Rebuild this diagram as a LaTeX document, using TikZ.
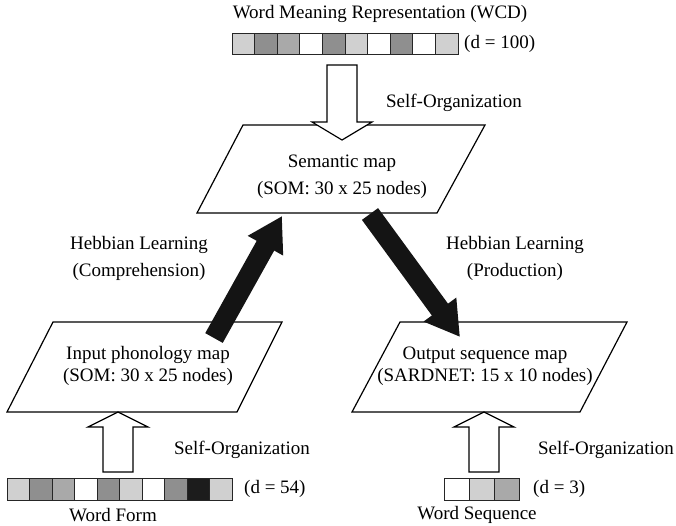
\documentclass[tikz,border=0pt]{standalone}
\usepackage{fontspec}
\setmainfont{Liberation Serif}
\usetikzlibrary{arrows.meta}
\definecolor{cL}{HTML}{D0D0D0}
\definecolor{cM}{HTML}{A9A9A9}
\definecolor{cD}{HTML}{8F8F8F}
\definecolor{cK}{HTML}{1C1C1C}
\begin{document}
\begin{tikzpicture}[x=1pt,y=-1pt,
  lbl/.style={font=\fontsize{19}{22}\selectfont, inner sep=0pt},
  mapbox/.style={draw=black, line width=1.2pt, fill=white, line join=miter},
  cellbox/.style={draw=black!85, line width=1pt},
  hollow/.style={draw=black, line width=1.2pt, fill=white, line join=miter},
  heb/.style={line width=20pt, -{Triangle[width=38pt,length=34pt]}, draw=black!92}
]
\useasboundingbox (0,0) rectangle (676,525);

% maps
\draw[mapbox] (243,125) -- (485,125) -- (437,213) -- (197,213) -- cycle;
\draw[mapbox] (53,322) -- (282,322) -- (237,412) -- (7,412) -- cycle;
\draw[mapbox] (400,322) -- (627,322) -- (580,412) -- (352,412) -- cycle;

% Hebbian arrows
\coordinate (phonOut) at (214,338);
\coordinate (semIn) at (282,216);
\coordinate (semOut) at (370,214);
\coordinate (outIn) at (460,337);
\draw[heb] (phonOut) -- (semIn);
\draw[heb] (semOut) -- (outIn);

% vectors
\foreach \c [count=\i from 0] in {cL,cD,cM,white,cD,cL,white,cD,white,cL}
  \draw[cellbox, fill=\c] ({232+22.6*\i},33) rectangle ++(22.6,21);
\foreach \c [count=\i from 0] in {cL,cD,cM,white,cD,cL,white,cD,cK,cL}
  \draw[cellbox, fill=\c] ({7+22.5*\i},478) rectangle ++(22.5,22);
\foreach \c [count=\i from 0] in {white,cL,cM}
  \draw[cellbox, fill=\c] ({444+25*\i},478) rectangle ++(25,22);

% hollow arrows
\coordinate (wcdTail) at (342,65);
\coordinate (semTip) at (342,140);
\coordinate (formTail) at (118,472);
\coordinate (phonTip) at (118,412);
\coordinate (seqTail) at (484,472);
\coordinate (outTip) at (484,412);
\draw[hollow] (327,65) -- (357,65) -- (357,122) -- (372,122) -- (semTip) -- (312,122) -- (327,122) -- cycle;
\draw[hollow] (103,472) -- (133,472) -- (133,427) -- (148,427) -- (phonTip) -- (88,427) -- (103,427) -- cycle;
\draw[hollow] (469,472) -- (499,472) -- (499,427) -- (514,427) -- (outTip) -- (454,427) -- (469,427) -- cycle;

% texts
\node[lbl] (title) at (380,14) {Word Meaning Representation (WCD)};
\node[lbl, anchor=west] (d100) at (464,44) {(d = 100)};
\node[lbl] (so1) at (454,103) {Self-Organization};
\node[lbl] (sem1) at (342,163) {Semantic map};
\node[lbl] (sem2) at (342,190) {(SOM: 30 x 25 nodes)};
\node[lbl] (hc1) at (139,245) {Hebbian Learning};
\node[lbl] (hc2) at (139,272) {(Comprehension)};
\node[lbl] (hp1) at (515,245) {Hebbian Learning};
\node[lbl] (hp2) at (515,272) {(Production)};
\node[lbl] (ip1) at (148,355) {Input phonology map};
\node[lbl] (ip2) at (148,377) {(SOM: 30 x 25 nodes)};
\node[lbl] (os1) at (485,355) {Output sequence map};
\node[lbl] (os2) at (485,377) {(SARDNET: 15 x 10 nodes)};
\node[lbl] (so2) at (242,450) {Self-Organization};
\node[lbl] (so3) at (606,450) {Self-Organization};
\node[lbl, anchor=west] (d54) at (244,489) {(d = 54)};
\node[lbl, anchor=west] (d3) at (533,489) {(d = 3)};
\node[lbl] (wf) at (113,515) {Word Form};
\node[lbl] (ws) at (477,515) {Word Sequence};
\end{tikzpicture}
\end{document}
